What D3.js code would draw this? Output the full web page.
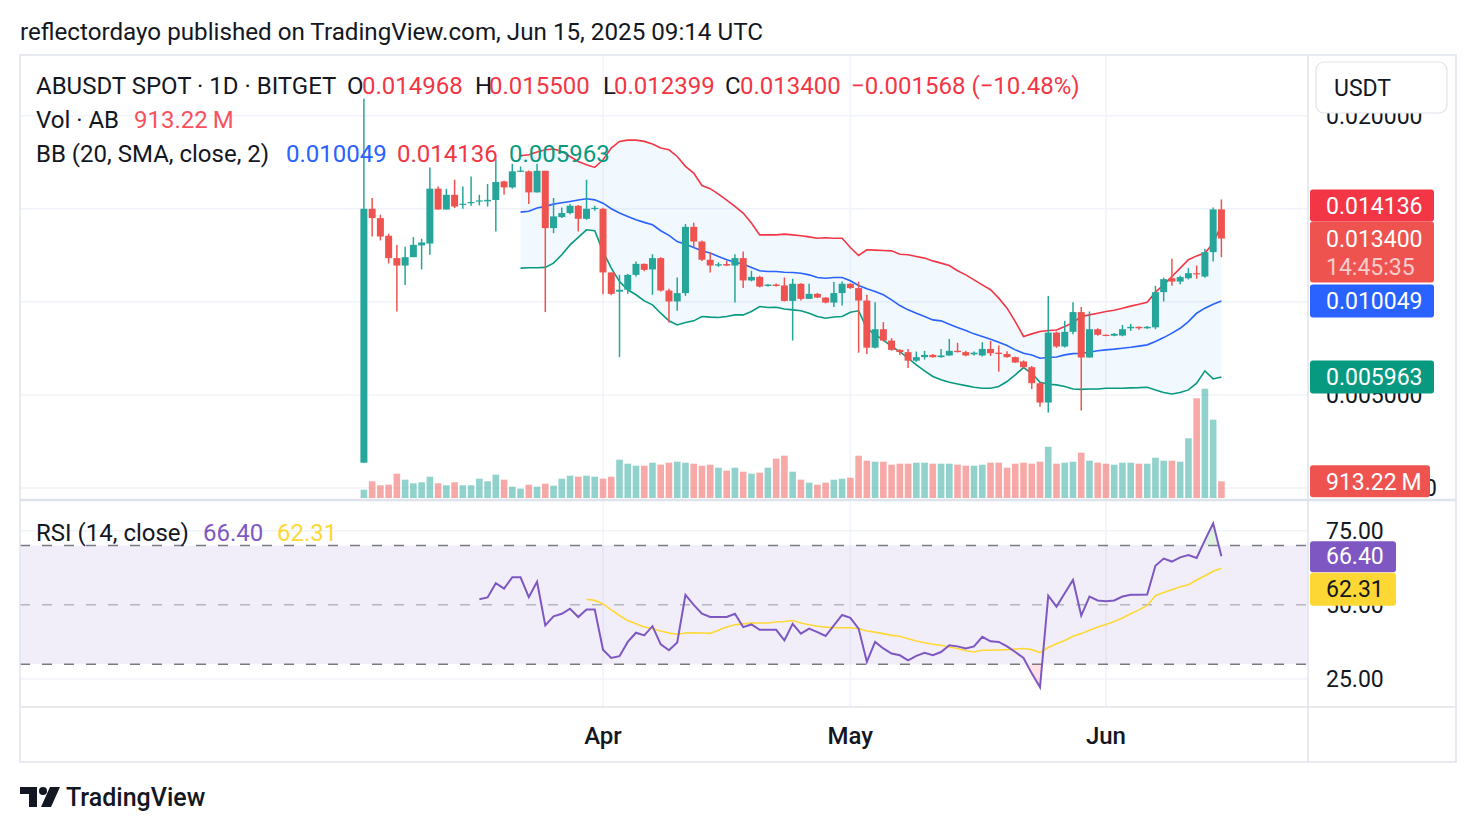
<!DOCTYPE html>
<html>
<head>
<meta charset="utf-8">
<script src="https://cdn.jsdelivr.net/npm/d3@7"></script>
<style>
  body { margin: 0; background: #fff; }
  svg text { font-family: Roboto, "Noto Sans", sans-serif; fill: #131722; }
</style>
</head>
<body>
<div id="chart"></div>
<script>
// daily candles, Mar 3 -> Jun 15 2025
var opens = [0.00136,0.01500,0.01450,0.01355,0.01235,0.01195,0.01240,0.01303,0.01313,0.01608,
  0.01496,0.01575,0.01522,0.01530,0.01539,0.01540,0.01547,0.01647,0.01615,0.01700,
  0.01701,0.01588,0.01704,0.01396,0.01455,0.01477,0.01516,0.01446,0.01500,0.01500,
  0.01158,0.01055,0.01065,0.01145,0.01204,0.01174,0.01235,0.01061,0.01002,0.01047,
  0.01403,0.01324,0.01226,0.01195,0.01203,0.01195,0.01235,0.01115,0.01134,0.01085,
  0.01093,0.01088,0.01005,0.01097,0.01016,0.01043,0.01023,0.00996,0.01047,0.01097,
  0.01074,0.01007,0.00754,0.00853,0.00792,0.00742,0.00730,0.00684,0.00703,0.00715,
  0.00703,0.00712,0.00737,0.00730,0.00718,0.00712,0.00747,0.00727,0.00720,0.00703,
  0.00680,0.00649,0.00563,0.00459,0.00835,0.00760,0.00839,0.00945,0.00701,0.00853,
  0.00823,0.00818,0.00819,0.00858,0.00866,0.00858,0.00863,0.01052,0.01127,0.01109,
  0.01127,0.01154,0.01136,0.01267,0.014968];
var highs = [0.02091,0.01558,0.01468,0.01366,0.01306,0.01296,0.01348,0.01339,0.01722,0.01620,
  0.01608,0.01656,0.01620,0.01674,0.01575,0.01633,0.01773,0.01650,0.01742,0.01727,
  0.01705,0.01742,0.01704,0.01558,0.01507,0.01525,0.01520,0.01656,0.01516,0.01505,
  0.01158,0.01145,0.01150,0.01217,0.01206,0.01256,0.01240,0.01070,0.01131,0.01418,
  0.01425,0.01330,0.01267,0.01212,0.01220,0.01256,0.01270,0.01167,0.01140,0.01095,
  0.01098,0.01131,0.01124,0.01100,0.01097,0.01048,0.01025,0.01106,0.01109,0.01100,
  0.01109,0.01038,0.00998,0.00891,0.00805,0.00745,0.00747,0.00733,0.00737,0.00720,
  0.00747,0.00801,0.00780,0.00737,0.00733,0.00783,0.00790,0.00765,0.00735,0.00706,
  0.00685,0.00655,0.00568,0.01032,0.00840,0.00898,0.00998,0.00973,0.00948,0.00858,
  0.00825,0.00832,0.00876,0.00882,0.00868,0.00870,0.01086,0.01130,0.01231,0.01140,
  0.01181,0.01195,0.01285,0.01507,0.015500];
var lows = [0.00136,0.01351,0.01330,0.01206,0.00948,0.01091,0.01240,0.01174,0.01253,0.01496,
  0.01496,0.01504,0.01500,0.01516,0.01518,0.01512,0.01378,0.01575,0.01608,0.01697,
  0.01525,0.01588,0.00945,0.01369,0.01450,0.01470,0.01378,0.01441,0.01490,0.01041,
  0.01036,0.00703,0.01043,0.01136,0.01165,0.01038,0.01055,0.00889,0.00952,0.01032,
  0.01292,0.01220,0.01158,0.01188,0.01192,0.00996,0.01074,0.01110,0.01078,0.01082,
  0.01082,0.01002,0.00792,0.01007,0.01016,0.01020,0.00992,0.00972,0.00980,0.01070,
  0.00727,0.00720,0.00750,0.00787,0.00737,0.00715,0.00644,0.00678,0.00690,0.00700,
  0.00700,0.00710,0.00728,0.00708,0.00712,0.00706,0.00710,0.00625,0.00700,0.00672,
  0.00640,0.00532,0.00437,0.00405,0.00753,0.00755,0.00826,0.00416,0.00700,0.00818,
  0.00815,0.00815,0.00815,0.00844,0.00850,0.00855,0.00853,0.01002,0.01086,0.01095,
  0.01120,0.01124,0.01130,0.01217,0.012399];
var closes = [0.01500,0.01450,0.01351,0.01235,0.01195,0.01240,0.01306,0.01319,0.01608,0.01496,
  0.01575,0.01512,0.01527,0.01536,0.01545,0.01548,0.01644,0.01615,0.01701,0.01705,
  0.01588,0.01704,0.01396,0.01459,0.01477,0.01516,0.01446,0.01500,0.01505,0.01158,
  0.01043,0.01065,0.01145,0.01204,0.01172,0.01235,0.01061,0.01002,0.01047,0.01403,
  0.01324,0.01226,0.01195,0.01202,0.01195,0.01235,0.01115,0.01134,0.01082,0.01093,
  0.01085,0.01005,0.01097,0.01016,0.01043,0.01023,0.00996,0.01047,0.01097,0.01074,
  0.01007,0.00754,0.00853,0.00792,0.00742,0.00730,0.00684,0.00703,0.00715,0.00703,
  0.00712,0.00737,0.00730,0.00712,0.00727,0.00747,0.00724,0.00720,0.00703,0.00674,
  0.00649,0.00563,0.00459,0.00835,0.00760,0.00839,0.00945,0.00701,0.00853,0.00823,
  0.00818,0.00828,0.00853,0.00866,0.00858,0.00866,0.01052,0.01122,0.01109,0.01133,
  0.01154,0.01148,0.01267,0.014968,0.013400];
// volume in millions
var volumes = [454,913,695,728,1329,1001,804,859,1165,804,
  695,859,695,695,1056,913,1275,1001,618,509,
  728,618,782,673,1056,1220,1165,1220,1165,1056,
  1165,2095,1876,1767,1767,1931,1822,1931,1986,1931,
  1876,1767,1822,1657,1493,1657,1439,1329,1384,1657,
  2150,2314,1439,1001,837,728,837,1001,1056,1110,
  2314,2040,1986,1986,1822,1876,1876,1931,1931,1876,
  1876,1876,1822,1767,1767,1822,1931,1931,1657,1876,
  1931,1876,1986,2806,1876,1931,1986,2478,2040,1931,
  1876,1822,1931,1931,1876,1876,2204,2040,2040,1986,
  3266,5454,5979,4283,913.22];

// Bollinger Bands (20, SMA, close, 2), from candle 19 on
var bbStart = 19;
var bbBasis = [0.01482,0.01487,0.01504,0.01513,0.01525,0.01532,0.01539,0.01547,0.01554,0.01548,
  0.01530,0.01500,0.01477,0.01459,0.01441,0.01427,0.01414,0.01382,0.01357,0.01324,
  0.01310,0.01292,0.01274,0.01262,0.01244,0.01226,0.01213,0.01203,0.01185,0.01167,
  0.01163,0.01163,0.01159,0.01158,0.01154,0.01145,0.01131,0.01127,0.01131,0.01131,
  0.01113,0.01088,0.01070,0.01056,0.01038,0.01011,0.00980,0.00957,0.00939,0.00921,
  0.00903,0.00898,0.00880,0.00862,0.00846,0.00828,0.00814,0.00799,0.00783,0.00765,
  0.00742,0.00724,0.00715,0.00697,0.00701,0.00704,0.00715,0.00722,0.00724,0.00729,
  0.00737,0.00742,0.00746,0.00751,0.00756,0.00762,0.00769,0.00787,0.00808,0.00832,
  0.00858,0.00894,0.00939,0.00966,0.00987,0.010049];
var bbUpper = [0.01785,0.01790,0.01805,0.01817,0.01821,0.01808,0.01781,0.01754,0.01737,0.01722,
  0.01763,0.01826,0.01862,0.01869,0.01869,0.01862,0.01848,0.01826,0.01817,0.01781,
  0.01728,0.01692,0.01625,0.01608,0.01579,0.01547,0.01513,0.01477,0.01423,0.01360,
  0.01360,0.01360,0.01364,0.01360,0.01355,0.01349,0.01342,0.01344,0.01342,0.01342,
  0.01292,0.01249,0.01280,0.01278,0.01276,0.01274,0.01256,0.01253,0.01244,0.01235,
  0.01220,0.01208,0.01195,0.01167,0.01145,0.01118,0.01091,0.01065,0.01020,0.00966,
  0.00894,0.00814,0.00828,0.00841,0.00846,0.00849,0.00867,0.00889,0.00921,0.00930,
  0.00939,0.00948,0.00955,0.00966,0.00977,0.00987,0.00998,0.01052,0.01091,0.01136,
  0.01181,0.01226,0.01247,0.01262,0.01315,0.014136];
var bbLower = [0.01181,0.01183,0.01183,0.01185,0.01208,0.01253,0.01306,0.01346,0.01387,0.01382,
  0.01271,0.01181,0.01109,0.01065,0.01038,0.01005,0.00984,0.00939,0.00898,0.00876,
  0.00889,0.00898,0.00921,0.00918,0.00916,0.00921,0.00930,0.00930,0.00948,0.00975,
  0.00970,0.00971,0.00962,0.00957,0.00952,0.00939,0.00921,0.00912,0.00919,0.00921,
  0.00944,0.00952,0.00858,0.00823,0.00796,0.00760,0.00733,0.00697,0.00661,0.00629,
  0.00599,0.00581,0.00568,0.00559,0.00550,0.00541,0.00536,0.00536,0.00545,0.00572,
  0.00608,0.00647,0.00616,0.00568,0.00557,0.00554,0.00545,0.00532,0.00530,0.00532,
  0.00532,0.00536,0.00536,0.00536,0.00538,0.00539,0.00541,0.00527,0.00513,0.00505,
  0.00513,0.00527,0.00563,0.00629,0.00586,0.005963];

// RSI (14, close) from candle 14, its SMA(14) from candle 27
var rsiStart = 14;
var rsi = [51.9,52.5,57.3,55.5,59.3,59.3,52.6,57.8,43.1,46.1,47.0,48.7,45.9,48.4,48.4,34.9,
  32.1,32.7,37.5,40.6,39.7,42.8,36.7,34.7,37.3,53.4,50.0,47.0,45.9,45.9,45.9,
  47.0,42.5,43.4,41.6,41.6,41.6,38.0,43.6,40.3,42.0,40.8,39.5,43.1,46.6,45.6,42.0,
  30.8,37.5,35.3,33.6,33.0,31.3,32.8,33.8,33.0,34.1,36.4,36.0,35.3,36.0,39.2,
  37.7,37.5,36.0,34.1,32.1,26.9,22.2,53.1,49.4,53.9,58.4,46.4,52.8,51.5,51.2,
  51.5,52.8,53.4,53.4,53.5,63.2,65.6,64.6,66.0,66.8,65.8,71.8,77.5,66.40];
var rsiMaStart = 27;
var rsiMa = [51.9,51.5,50.3,48.3,46.4,44.7,43.6,42.5,42.0,41.2,40.5,40.1,40.5,40.6,40.5,40.4,41.4,42.5,
  43.3,43.6,43.9,43.9,43.9,44.2,44.4,44.7,43.9,43.3,42.8,42.5,42.3,42.3,42.3,42.0,
  41.2,40.8,40.3,39.7,39.4,38.6,37.8,37.2,36.7,36.4,35.8,35.3,34.5,34.1,34.7,
  34.7,34.8,34.9,35.1,35.3,34.9,33.9,35.6,36.9,38.0,39.4,40.3,41.4,42.5,43.4,
  44.4,45.6,47.0,48.3,49.8,53.1,54.2,55.1,56.1,56.8,58.4,59.8,61.3,62.31];

var priceTicks = [0, 0.005, 0.010, 0.015, 0.020];
var rsiTicks = [25, 75];
var rsiBands = [70, 50, 30];
var monthTicks = [[Date.UTC(2025,3,1), "Apr"], [Date.UTC(2025,4,1), "May"], [Date.UTC(2025,5,1), "Jun"]];

var width = 1476, height = 832;
var upCol = "#26a69a", downCol = "#ef5350";
var frameCol = "#e0e3eb", gridCol = "#f0f3fa";
var legSize = "24px", axSize = "23px";

var start = new Date(Date.UTC(2025, 2, 3));
var dates = d3.utcDay.range(start, d3.utcDay.offset(start, opens.length));

var svg = d3.select("#chart").append("svg")
  .attr("width", width)
  .attr("height", height);

// scales
var x = d3.scaleUtc().domain([start, dates[dates.length - 1]]).range([363.9, 1221.4]);
var y = d3.scaleLinear().domain([0, 0.02]).range([488, 115.7]);
var yVol = d3.scaleLinear().domain([0, 6000]).range([498, 388.3]);
var yRsi = d3.scaleLinear().domain([25, 75]).range([679, 530.7]);

var defs = svg.append("defs");
defs.append("clipPath").attr("id", "mainClip").append("rect")
  .attr("x", 20).attr("y", 56).attr("width", 1288).attr("height", 443);
defs.append("clipPath").attr("id", "rsiClip").append("rect")
  .attr("x", 20).attr("y", 501).attr("width", 1288).attr("height", 206);
defs.append("clipPath").attr("id", "obClip").append("rect")
  .attr("x", 20).attr("y", 501).attr("width", 1288).attr("height", yRsi(70) - 501);
defs.append("clipPath").attr("id", "osClip").append("rect")
  .attr("x", 20).attr("y", yRsi(30)).attr("width", 1288).attr("height", 707 - yRsi(30));

// title
svg.append("text").attr("x", 20).attr("y", 31).attr("dy", "0.36em")
  .style("font-size", "24.2px")
  .text("reflectordayo published on TradingView.com, Jun 15, 2025 09:14 UTC");

// ---------- main pane ----------
var main = svg.append("g").attr("clip-path", "url(#mainClip)");

main.selectAll(".hgrid").data(priceTicks).enter().append("line")
  .attr("x1", 20).attr("x2", 1308)
  .attr("y1", d => y(d)).attr("y2", d => y(d))
  .attr("stroke", gridCol).attr("stroke-width", 1.5);

main.selectAll(".vgrid").data(monthTicks).enter().append("line")
  .attr("x1", d => x(d[0])).attr("x2", d => x(d[0]))
  .attr("y1", 55).attr("y2", 500)
  .attr("stroke", gridCol).attr("stroke-width", 1.5);

// BB fill
var bbIdx = d3.range(bbStart, opens.length);
main.append("path")
  .datum(bbIdx)
  .attr("fill", "rgba(33,150,243,0.06)")
  .attr("d", d3.area()
    .x(i => x(dates[i]))
    .y0(i => y(bbLower[i - bbStart]))
    .y1(i => y(bbUpper[i - bbStart])));

// volume
main.selectAll(".vol").data(d3.range(volumes.length)).enter().append("rect")
  .attr("x", i => x(dates[i]) - 3.3)
  .attr("width", 6.6)
  .attr("y", i => yVol(volumes[i]))
  .attr("height", i => 498 - yVol(volumes[i]))
  .attr("fill", i => closes[i] >= opens[i] ? "rgba(38,166,154,0.5)" : "rgba(239,83,80,0.5)");

// BB lines
[[bbUpper, "#f23645"], [bbBasis, "#2962ff"], [bbLower, "#089981"]].forEach(function(s) {
  main.append("path")
    .datum(bbIdx)
    .attr("fill", "none")
    .attr("stroke", s[1])
    .attr("stroke-width", 1.6)
    .attr("d", d3.line().x(i => x(dates[i])).y(i => y(s[0][i - bbStart])));
});

// candles
var candle = main.selectAll(".candle").data(d3.range(opens.length)).enter().append("g");
candle.append("line")
  .attr("x1", i => x(dates[i])).attr("x2", i => x(dates[i]))
  .attr("y1", i => y(highs[i])).attr("y2", i => y(lows[i]))
  .attr("stroke", i => closes[i] >= opens[i] ? upCol : downCol)
  .attr("stroke-width", 1.5);
candle.append("rect")
  .attr("x", i => x(dates[i]) - 3.5)
  .attr("width", 7)
  .attr("y", i => y(Math.max(opens[i], closes[i])))
  .attr("height", i => Math.max(1.2, Math.abs(y(opens[i]) - y(closes[i]))))
  .attr("fill", i => closes[i] >= opens[i] ? upCol : downCol);

// ---------- RSI pane ----------
var rp = svg.append("g").attr("clip-path", "url(#rsiClip)");
rp.selectAll(".rgrid").data(rsiTicks).enter().append("line")
  .attr("x1", 20).attr("x2", 1308)
  .attr("y1", d => yRsi(d)).attr("y2", d => yRsi(d))
  .attr("stroke", gridCol).attr("stroke-width", 1.5);
rp.selectAll(".rvgrid").data(monthTicks).enter().append("line")
  .attr("x1", d => x(d[0])).attr("x2", d => x(d[0]))
  .attr("y1", 500).attr("y2", 707)
  .attr("stroke", gridCol).attr("stroke-width", 1.5);
rp.append("rect")
  .attr("x", 20).attr("width", 1288)
  .attr("y", yRsi(70)).attr("height", yRsi(30) - yRsi(70))
  .attr("fill", "rgba(126,87,194,0.1)");
rp.selectAll(".band").data(rsiBands).enter().append("line")
  .attr("x1", 20).attr("x2", 1308)
  .attr("y1", d => yRsi(d)).attr("y2", d => yRsi(d))
  .attr("stroke", d => d == 50 ? "rgba(120,123,134,0.5)" : "#787b86")
  .attr("stroke-width", 1.5)
  .attr("stroke-dasharray", "10,12");

var rsiIdx = d3.range(rsiStart, opens.length);
rp.append("path").datum(rsiIdx)
  .attr("clip-path", "url(#obClip)")
  .attr("fill", "rgba(76,175,80,0.18)")
  .attr("d", d3.area().x(i => x(dates[i])).y0(yRsi(70)).y1(i => yRsi(rsi[i - rsiStart])));
rp.append("path").datum(rsiIdx)
  .attr("clip-path", "url(#osClip)")
  .attr("fill", "rgba(242,54,69,0.15)")
  .attr("d", d3.area().x(i => x(dates[i])).y0(yRsi(30)).y1(i => yRsi(rsi[i - rsiStart])));

var maIdx = d3.range(rsiMaStart, opens.length);
rp.append("path").datum(maIdx)
  .attr("fill", "none").attr("stroke", "#fdd835").attr("stroke-width", 1.6)
  .attr("d", d3.line().x(i => x(dates[i])).y(i => yRsi(rsiMa[i - rsiMaStart])));
rp.append("path").datum(rsiIdx)
  .attr("fill", "none").attr("stroke", "#7e57c2").attr("stroke-width", 2)
  .attr("d", d3.line().x(i => x(dates[i])).y(i => yRsi(rsi[i - rsiStart])));

// ---------- frame ----------
var frame = svg.append("g").attr("stroke", frameCol).attr("fill", "none");
frame.append("rect").attr("x", 20).attr("y", 55).attr("width", 1436).attr("height", 707).attr("stroke-width", 1.5);
frame.append("line").attr("x1", 1308).attr("x2", 1308).attr("y1", 55).attr("y2", 762).attr("stroke-width", 1.5);
frame.append("line").attr("x1", 20).attr("x2", 1456).attr("y1", 707).attr("y2", 707).attr("stroke-width", 1.5);
frame.append("line").attr("x1", 20).attr("x2", 1456).attr("y1", 500).attr("y2", 500).attr("stroke-width", 2.5);

// ---------- price axis ----------
var fmt6 = d3.format(".6f"), fmt2 = d3.format(".2f");
svg.selectAll(".ptick").data(priceTicks).enter().append("text")
  .attr("x", 1326).attr("y", d => y(d)).attr("dy", "0.36em")
  .style("font-size", axSize)
  .text(d => fmt6(d));
svg.append("text").attr("x", 1424).attr("y", y(0)).attr("dy", "0.36em").style("font-size", axSize).text("0");

svg.append("rect").attr("x", 1316).attr("y", 62).attr("width", 131).attr("height", 51).attr("rx", 8)
  .attr("fill", "#fff").attr("stroke", frameCol).attr("stroke-width", 1.2);
svg.append("text").attr("x", 1334).attr("y", 88).attr("dy", "0.36em").style("font-size", axSize).text("USDT");

function tag(yc, h, col, txt, w) {
  svg.append("rect").attr("x", 1310).attr("y", yc - h / 2).attr("width", w || 124).attr("height", h)
    .attr("rx", 3).attr("fill", col);
  svg.append("text").attr("x", 1326).attr("y", yc).attr("dy", "0.36em")
    .style("font-size", axSize).style("fill", "#fff").text(txt);
}
var last = opens.length - 1;
var lastClose = closes[last];
var bbB = bbBasis[bbBasis.length - 1], bbU = bbUpper[bbUpper.length - 1], bbL = bbLower[bbLower.length - 1];

// close label with countdown, then upper band label pushed above it
var cy = y(lastClose);
svg.append("rect").attr("x", 1310).attr("y", cy - 17).attr("width", 124).attr("height", 61).attr("rx", 3).attr("fill", "#ef5350");
svg.append("text").attr("x", 1326).attr("y", cy).attr("dy", "0.36em").style("font-size", axSize).style("fill", "#fff").text(fmt6(lastClose));
svg.append("text").attr("x", 1326).attr("y", cy + 28).attr("dy", "0.36em").style("font-size", axSize).style("fill", "rgba(255,255,255,0.72)").text("14:45:35");
tag(Math.min(y(bbU), cy - 17 - 16), 32, "#f23645", fmt6(bbU));
tag(Math.max(y(bbB), cy + 44 + 17), 33, "#2962ff", fmt6(bbB));
tag(y(bbL), 33, "#089981", fmt6(bbL));
tag(yVol(volumes[last]), 32, "#ef5350", d3.format(".2f")(volumes[last]) + "\u2009M", 120);

// RSI axis
svg.selectAll(".rtick").data([75, 50, 25]).enter().append("text")
  .attr("x", 1326).attr("y", d => yRsi(d)).attr("dy", "0.36em")
  .style("font-size", axSize).text(d => fmt2(d));
var rLast = rsi[rsi.length - 1], mLast = rsiMa[rsiMa.length - 1];
var rY = yRsi(rLast);
svg.append("rect").attr("x", 1310).attr("y", rY - 15).attr("width", 86).attr("height", 31).attr("rx", 3).attr("fill", "#7e57c2");
svg.append("text").attr("x", 1326).attr("y", rY).attr("dy", "0.36em").style("font-size", axSize).style("fill", "#fff").text(fmt2(rLast));
var mY = Math.max(yRsi(mLast), rY + 16 + 17);
svg.append("rect").attr("x", 1310).attr("y", mY - 16.5).attr("width", 86).attr("height", 33).attr("rx", 3).attr("fill", "#fdd835");
svg.append("text").attr("x", 1326).attr("y", mY).attr("dy", "0.36em").style("font-size", axSize).text(fmt2(mLast));

// time axis
svg.selectAll(".mtick").data(monthTicks).enter().append("text")
  .attr("x", d => x(d[0])).attr("y", 735).attr("dy", "0.36em")
  .attr("text-anchor", "middle")
  .style("font-size", "24px").style("font-weight", 500)
  .text(d => d[1]);

// ---------- legends ----------
function leg(xp, yp, txt, col) {
  svg.append("text").attr("x", xp).attr("y", yp).attr("dy", "0.36em")
    .style("font-size", legSize).style("fill", col || "#131722").text(txt);
}
var red = "#f23645";
leg(36, 85, "ABUSDT SPOT \u00b7 1D \u00b7 BITGET");
leg(347, 85, "O"); leg(362, 85, fmt6(opens[last]), red);
leg(475, 85, "H"); leg(489, 85, fmt6(highs[last]), red);
leg(603, 85, "L"); leg(614, 85, fmt6(lows[last]), red);
leg(725, 85, "C"); leg(740, 85, fmt6(lastClose), red);
var chg = lastClose - closes[last - 1];
leg(851, 85, "\u2212" + fmt6(Math.abs(chg)) + " (\u2212" + fmt2(Math.abs(chg / closes[last - 1] * 100)) + "%)", red);
leg(36, 119, "Vol \u00b7 AB");
leg(134, 119, fmt2(volumes[last]) + "\u2009M", "#f7525f");
leg(36, 153, "BB (20, SMA, close, 2)");
leg(286, 153, fmt6(bbB), "#2962ff");
leg(397, 153, fmt6(bbU), red);
leg(509, 153, fmt6(bbL), "#089981");
leg(36, 532, "RSI (14, close)");
leg(203, 532, fmt2(rLast), "#7e57c2");
leg(277, 532, fmt2(mLast), "#fdd835");

// footer logo
var logo = svg.append("g").attr("fill", "#131722");
logo.append("path").attr("d", "M20,787 H37 V807 H29 V794 H20 Z");
logo.append("circle").attr("cx", 43).attr("cy", 791).attr("r", 4);
logo.append("path").attr("d", "M50,787 H60 L51,807 H41 Z");
svg.append("text").attr("x", 66).attr("y", 797).attr("dy", "0.36em")
  .style("font-size", "25px").style("font-weight", 500).text("TradingView");
</script>
</body>
</html>
